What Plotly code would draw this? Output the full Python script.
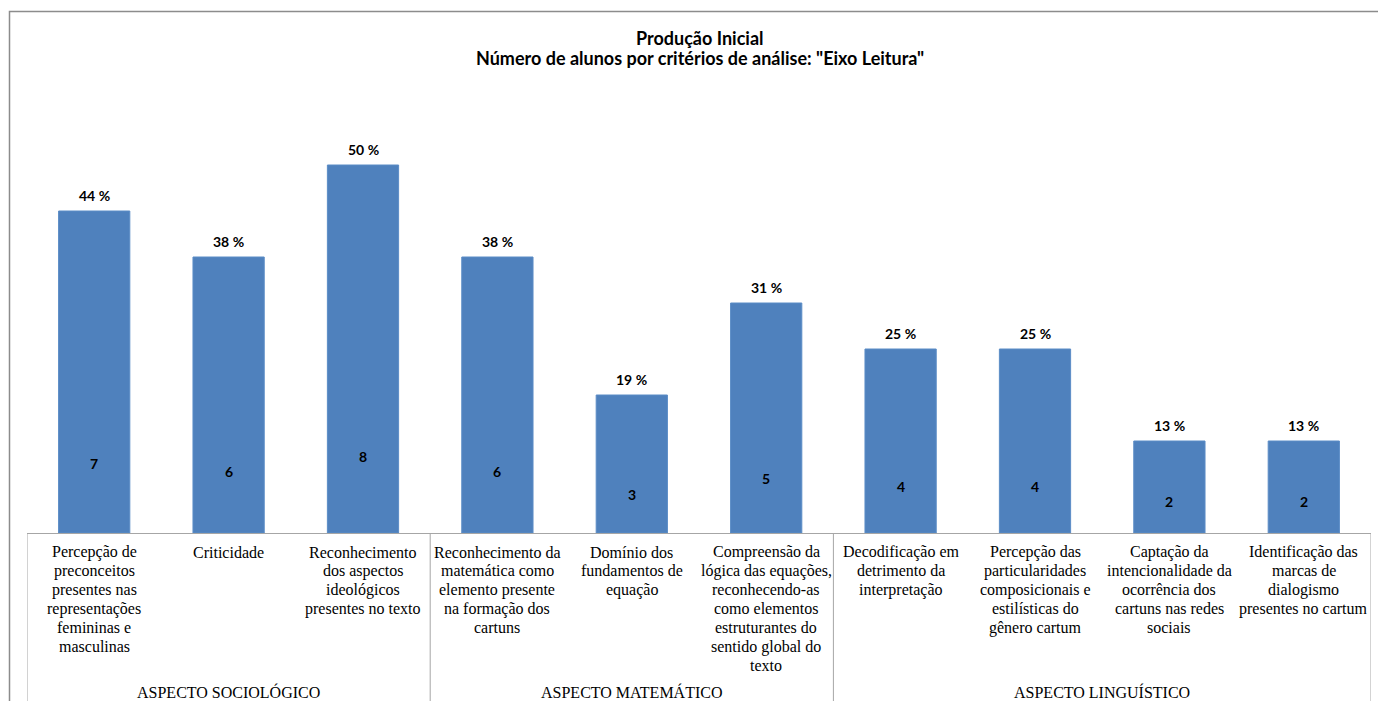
import plotly.graph_objects as go

# Reading-axis criteria, grouped by aspect
categories = [
    "Percepção de<br>preconceitos<br>presentes nas<br>representações<br>femininas e<br>masculinas",
    "Criticidade",
    "Reconhecimento<br>dos aspectos<br>ideológicos<br>presentes no texto",
    "Reconhecimento da<br>matemática como<br>elemento presente<br>na formação dos<br>cartuns",
    "Domínio dos<br>fundamentos de<br>equação",
    "Compreensão da<br>lógica das equações,<br>reconhecendo-as<br>como elementos<br>estruturantes do<br>sentido global do<br>texto",
    "Decodificação em<br>detrimento da<br>interpretação",
    "Percepção das<br>particularidades<br>composicionais e<br>estilísticas do<br>gênero cartum",
    "Captação da<br>intencionalidade da<br>ocorrência dos<br>cartuns nas redes<br>sociais",
    "Identificação das<br>marcas de<br>dialogismo<br>presentes no cartum",
]
students = [7, 6, 8, 6, 3, 5, 4, 4, 2, 2]
percent_labels = ["44 %", "38 %", "50 %", "38 %", "19 %", "31 %", "25 %", "25 %", "13 %", "13 %"]
groups = ["ASPECTO SOCIOLÓGICO", "ASPECTO MATEMÁTICO", "ASPECTO LINGUÍSTICO"]
group_sizes = [3, 3, 4]
title_lines = ["Produção Inicial", "Número de alunos por critérios de análise: \"Eixo Leitura\""]

W, H = 1378, 701
L, R, T, B = 27, 7, 73, 168
plot_w = W - L - R
plot_h = H - T - B

def px_x(px):
    return (px - L) / plot_w

def px_y(py):
    return (H - B - py) / plot_h

xs = list(range(len(categories)))
bar_font = "Lato"
serif = "Times New Roman, Liberation Serif, DejaVu Serif, serif"
LINE_STEP = 18.9

fig = go.Figure(go.Bar(
    x=xs, y=students, width=0.53,
    marker=dict(color="#4F81BD", line=dict(color="#5B8CC6", width=1)),
    hoverinfo="skip",
))

ann = []
for x, v, p in zip(xs, students, percent_labels):
    ann.append(dict(x=x, y=v, xref="x", yref="y", text=f"<b>{p}</b>", showarrow=False,
                    yanchor="middle", yshift=16, font=dict(family=bar_font, size=14, color="#000")))
    ann.append(dict(x=x, y=0.35 + 0.165 * v, xref="x", yref="y", text=f"<b>{v}</b>", showarrow=False,
                    yanchor="middle", font=dict(family=bar_font, size=14, color="#000")))

# category labels, one line at a time for tight line spacing
for x, c in zip(xs, categories):
    for i, line in enumerate(c.split("<br>")):
        ann.append(dict(x=x, y=px_y(552 + i * LINE_STEP), xref="x", yref="paper", text=line,
                        showarrow=False, yanchor="middle",
                        font=dict(family=serif, size=16, color="#000")))

shapes = []
start = -0.5
edges = [start]
for g, n in zip(groups, group_sizes):
    end = start + n
    ann.append(dict(x=(start + end) / 2, y=px_y(692), xref="x", yref="paper", text=g,
                    showarrow=False, yanchor="middle",
                    font=dict(family=serif, size=16, color="#000")))
    edges.append(end)
    start = end
for e in edges:
    shapes.append(dict(type="line", xref="x", yref="paper", x0=e, x1=e,
                       y0=0, y1=px_y(H + 5), line=dict(color="#A6A6A6", width=1)))

# chart title
for i, t in enumerate(title_lines):
    ann.append(dict(x=px_x(700), y=px_y(38 + i * 20), xref="paper", yref="paper", text=f"<b>{t}</b>",
                    showarrow=False, yanchor="middle", xanchor="center",
                    font=dict(family=bar_font, size=18, color="#000")))

# outer chart frame
shapes.append(dict(type="path", xref="paper", yref="paper",
                   path=f"M {px_x(9.5)} {px_y(H + 5)} L {px_x(9.5)} {px_y(11.5)} L {px_x(W + 5)} {px_y(11.5)}",
                   line=dict(color="#8C8C8C", width=1.5)))

fig.update_layout(
    width=W, height=H, autosize=False,
    margin=dict(l=L, r=R, t=T, b=B),
    paper_bgcolor="white", plot_bgcolor="white",
    showlegend=False,
    xaxis=dict(range=[-0.5, 9.5], showticklabels=False, ticks="", showgrid=False,
               showline=True, linecolor="#A6A6A6", linewidth=1, zeroline=False, fixedrange=True),
    yaxis=dict(range=[0, 10], visible=False, showgrid=False, zeroline=False, fixedrange=True),
    annotations=ann, shapes=shapes,
)

fig.write_html("out.html")
